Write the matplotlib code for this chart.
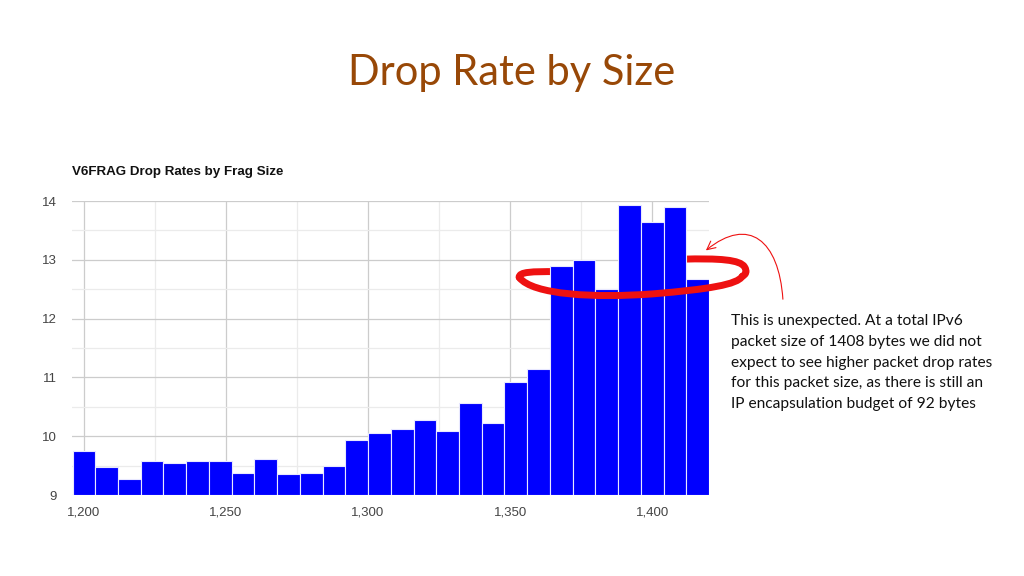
import matplotlib.pyplot as plt
from matplotlib.path import Path
from matplotlib.patches import FancyArrowPatch, PathPatch
from matplotlib.ticker import MultipleLocator, FuncFormatter

# fragment sizes (bytes) and drop rates (%)
frag_sizes = [1200, 1208, 1216, 1224, 1232, 1240, 1248, 1256, 1264, 1272,
              1280, 1288, 1296, 1304, 1312, 1320, 1328, 1336, 1344, 1352,
              1360, 1368, 1376, 1384, 1392, 1400, 1408, 1416]
drop_rates = [9.75, 9.48, 9.27, 9.58, 9.54, 9.58, 9.58, 9.37, 9.61, 9.35,
              9.37, 9.50, 9.93, 10.05, 10.12, 10.28, 10.09, 10.56, 10.23, 10.92,
              11.15, 12.90, 12.99, 12.50, 13.93, 13.64, 13.90, 12.67]

slide_title = "Drop Rate by Size"
chart_title = "V6FRAG Drop Rates by Frag Size"
note = ("This is unexpected. At a total IPv6\n"
        "packet size of 1408 bytes we did not\n"
        "expect to see higher packet drop rates\n"
        "for this packet size, as there is still an\n"
        "IP encapsulation budget of 92 bytes")

fig = plt.figure(figsize=(10.24, 5.76), dpi=100)
ax = fig.add_axes([0.0703, 0.1406, 0.6221, 0.5104])

ax.bar(frag_sizes, [r - 9 for r in drop_rates], bottom=9, width=8,
       color='#0000ff', edgecolor='#e8e8ff', linewidth=0.8, zorder=3)

ax.set_xlim(1195.8, 1420)
ax.set_ylim(9, 14)
ax.xaxis.set_major_locator(MultipleLocator(50))
ax.xaxis.set_minor_locator(MultipleLocator(25))
ax.yaxis.set_major_locator(MultipleLocator(1))
ax.yaxis.set_minor_locator(MultipleLocator(0.5))
ax.xaxis.set_major_formatter(FuncFormatter(lambda v, p: f"{int(v):,}"))
ax.grid(which='major', color='#cccccc', linewidth=0.9, zorder=0)
ax.grid(which='minor', color='#ebebeb', linewidth=0.9, zorder=0)
ax.set_axisbelow(True)
for s in ax.spines.values():
    s.set_visible(False)
ax.tick_params(which='both', length=0)
ax.tick_params(axis='y', pad=11, labelsize=9.5, labelcolor='#444444')
ax.tick_params(axis='x', pad=8, labelsize=9.5, labelcolor='#444444')
for lab in ax.get_xticklabels() + ax.get_yticklabels():
    lab.set_fontfamily('Liberation Sans')

fig.text(0.0703, 1 - 172 / 576, chart_title, fontsize=9.6, fontweight='bold',
         family='Liberation Sans', va='center', ha='left', color='#111111')
fig.text(0.5, 1 - 73 / 576, slide_title, fontsize=30, family='Lato',
         color='#984807', ha='center', va='center')
fig.text(731 / 1024, 1 - 314 / 576, note, fontsize=11.2, family='Lato',
         color='#111111', ha='left', va='top', linespacing=1.62)

# red loop round the high bars: back part hidden behind bars, front part on top
red = '#ee1111'
loop_back_left = Path([(1353.2, 12.70), (1353.0, 12.80), (1358.0, 12.80), (1366.0, 12.80)],
                      [Path.MOVETO, Path.CURVE4, Path.CURVE4, Path.CURVE4])
loop_back_right = Path([(1410.0, 13.01), (1424.0, 13.03), (1431.0, 13.00), (1432.5, 12.88),
                        (1433.5, 12.80), (1433.0, 12.75), (1431.7, 12.72)],
                       [Path.MOVETO, Path.CURVE4, Path.CURVE4, Path.CURVE4,
                        Path.CURVE4, Path.CURVE4, Path.CURVE4])
loop_front = Path([(1431.7, 12.72), (1430.0, 12.58), (1420.0, 12.50), (1400.0, 12.42),
                   (1380.0, 12.35), (1358.0, 12.40), (1353.2, 12.70)],
                  [Path.MOVETO, Path.CURVE4, Path.CURVE4, Path.CURVE4,
                   Path.CURVE4, Path.CURVE4, Path.CURVE4])
for p in (loop_back_left, loop_back_right):
    ax.add_patch(PathPatch(p, fill=False, edgecolor=red, lw=5, capstyle='round',
                           joinstyle='round', zorder=2, clip_on=False))
ax.add_patch(PathPatch(loop_front, fill=False, edgecolor=red, lw=5, capstyle='round',
                       joinstyle='round', zorder=4, clip_on=False))

# thin curved arrow from the note to the loop
arrow_path = Path([(1446.0, 12.33), (1444.6, 13.33), (1434.0, 13.75), (1418.9, 13.16)],
                  [Path.MOVETO, Path.CURVE4, Path.CURVE4, Path.CURVE4])
arrow = FancyArrowPatch(path=arrow_path, arrowstyle='->,head_length=6,head_width=3',
                        color=red, lw=0.8, transform=ax.transData,
                        clip_on=False, zorder=5)
ax.add_patch(arrow)

fig.savefig('out.png', dpi=100)
